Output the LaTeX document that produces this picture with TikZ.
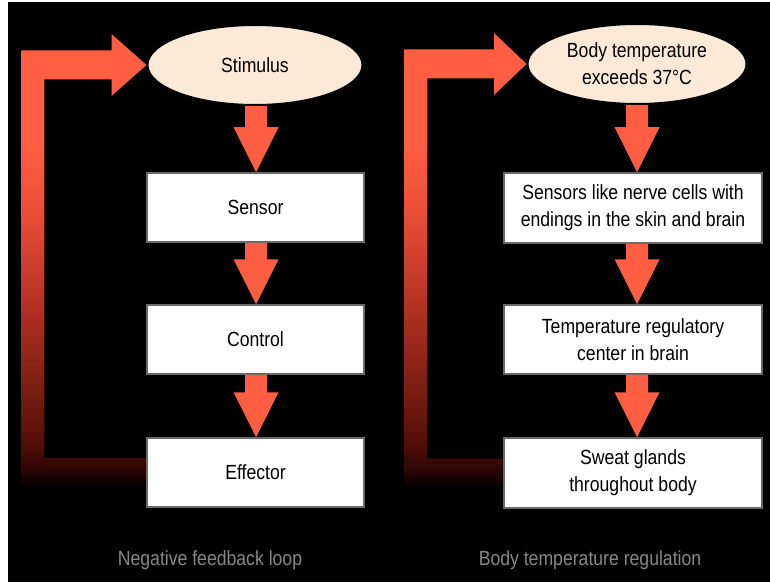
\documentclass[tikz,border=0pt]{standalone}
\usepackage{fontspec}
\setmainfont{Liberation Sans}[FakeStretch=0.86]
\usetikzlibrary{shapes.geometric,calc}
\definecolor{arrowred}{RGB}{255,94,66}
\definecolor{peach}{RGB}{253,233,215}
\definecolor{boxline}{RGB}{105,105,105}
\definecolor{captiongray}{RGB}{135,135,135}
\definecolor{fbA}{RGB}{45,6,3}
\definecolor{fbB}{RGB}{85,15,8}
\definecolor{fbC}{RGB}{130,32,20}
\definecolor{fbD}{RGB}{185,52,36}
\definecolor{fbE}{RGB}{232,78,55}
\pgfdeclareverticalshading{fbshade}{100bp}{color(0bp)=(black); color(25bp)=(black); color(27bp)=(fbA); color(30bp)=(fbB); color(37bp)=(fbC); color(46bp)=(fbD); color(55bp)=(fbE); color(63bp)=(arrowred); color(100bp)=(arrowred)}
\pgfdeclarelayer{bg}
\pgfsetlayers{bg,main}
\newcommand\flowarrow[3]{%
  \fill[arrowred] let \p1=(#1.south -| #3), \p2=(#2.north -| #3) in
    (\x1-11pt,\y1) -- (\x1-11pt,\y2+45pt) -- (\x1-22.5pt,\y2+45pt) -- (\x2,\y2)
    -- (\x1+22.5pt,\y2+45pt) -- (\x1+11pt,\y2+45pt) -- (\x1+11pt,\y1) -- cycle;}
\tikzset{
  txt/.style={font=\fontsize{20.5}{27}\selectfont, align=center, text=black, inner sep=0pt},
  stimstyle/.style={txt, ellipse, draw=black, line width=2pt, fill=peach},
  boxstyle/.style={txt, rectangle, draw=boxline, line width=1.5pt, fill=white},
  caption/.style={font=\fontsize{20.5}{27}\selectfont, text=captiongray, inner sep=0pt}
}
\begin{document}
\begin{tikzpicture}[x=1pt,y=-1pt]
\useasboundingbox (0,0) rectangle (770,585);
% left column
\coordinate (lcol) at (256,0);
\node[stimstyle, minimum width=215pt, minimum height=80pt] (lstim) at (255,65) {Stimulus};
\node[boxstyle, minimum width=217pt, minimum height=69pt] (lsens) at (255.5,207.5) {Sensor};
\node[boxstyle, minimum width=217pt, minimum height=69pt] (lctrl) at (255.5,339.5) {Control};
\node[boxstyle, minimum width=217pt, minimum height=69pt] (leff) at (255.5,472.5) {Effector};
\node[caption] (lcap) at (210,560) {Negative feedback loop};
% right column
\coordinate (rcol) at (637,0);
\node[stimstyle, minimum width=219pt, minimum height=80pt] (rstim) at (637,64) {Body temperature\\exceeds 37°C};
\node[boxstyle, minimum width=258pt, minimum height=70pt] (rsens) at (633,208) {Sensors like nerve cells with\\endings in the skin and brain};
\node[boxstyle, minimum width=258pt, minimum height=69pt] (rctrl) at (633,339.5) {Temperature regulatory\\center in brain};
\node[boxstyle, minimum width=258pt, minimum height=70pt] (reff) at (633,473) {Sweat glands\\throughout body};
\node[caption] (rcap) at (590,560) {Body temperature regulation};
% down arrows
\flowarrow{lstim}{lsens}{lcol}
\flowarrow{lsens}{lctrl}{lcol}
\flowarrow{lctrl}{leff}{lcol}
\flowarrow{rstim}{rsens}{rcol}
\flowarrow{rsens}{rctrl}{rcol}
\flowarrow{rctrl}{reff}{rcol}
\begin{pgfonlayer}{bg}
\fill[white] (0,0) rectangle (770,585);
\fill[black] (8,2) rectangle (770,582);
% left feedback loop
\shade[shading=fbshade] let \p1=(leff.west), \p2=(lstim.west) in
  (\x2,\y2) -- (\x2-35pt,\y2+31pt) -- (\x2-35pt,\y2+14.5pt) -- (\x1-125pt,\y2+14.5pt)
  -- (\x1-125pt,\y1-14.5pt) -- (\x1,\y1-14.5pt) -- (\x1,\y1+14.5pt) -- (\x1-102pt,\y1+14.5pt)
  -- (\x1-102pt,\y2-14.5pt) -- (\x2-35pt,\y2-14.5pt) -- (\x2-35pt,\y2-31pt) -- cycle;
% right feedback loop
\shade[shading=fbshade] let \p1=(reff.west), \p2=(rstim.west) in
  (\x2,\y2) -- (\x2-32.5pt,\y2+31pt) -- (\x2-32.5pt,\y2+14.5pt) -- (\x1-99pt,\y2+14.5pt)
  -- (\x1-99pt,\y1-14.5pt) -- (\x1,\y1-14.5pt) -- (\x1,\y1+14.5pt) -- (\x1-76pt,\y1+14.5pt)
  -- (\x1-76pt,\y2-14.5pt) -- (\x2-32.5pt,\y2-14.5pt) -- (\x2-32.5pt,\y2-31pt) -- cycle;
\end{pgfonlayer}
\end{tikzpicture}
\end{document}
